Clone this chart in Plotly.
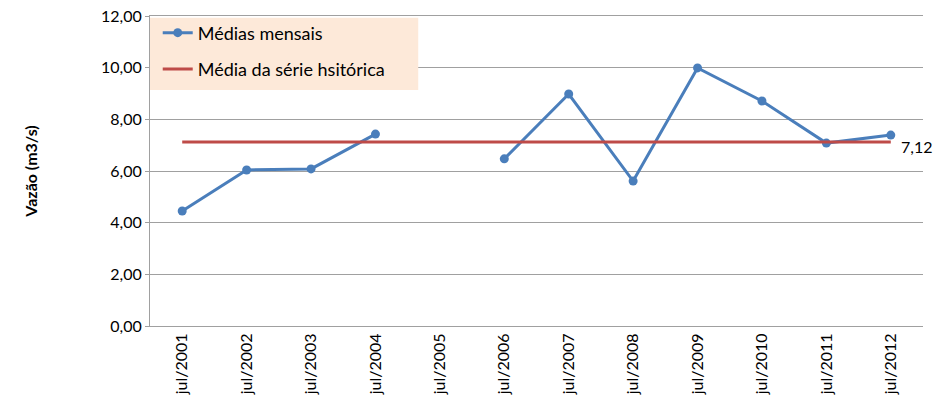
import plotly.graph_objects as go

categories = ["jul/2001", "jul/2002", "jul/2003", "jul/2004", "jul/2005", "jul/2006",
              "jul/2007", "jul/2008", "jul/2009", "jul/2010", "jul/2011", "jul/2012"]
medias_mensais = [4.45, 6.04, 6.08, 7.43, None, 6.47, 8.98, 5.61, 9.99, 8.71, 7.08, 7.39]
media_historica = 7.12
historica_values = [media_historica] * len(categories)

FONT = "Lato, 'Open Sans', sans-serif"

fig = go.Figure()
fig.add_trace(go.Scatter(
    x=categories, y=medias_mensais, name="Médias mensais",
    mode="lines+markers", connectgaps=False, legendgroup="a",
    line=dict(color="#4A7EBB", width=3),
    marker=dict(color="#4A7EBB", size=9),
))
fig.add_trace(go.Scatter(
    x=categories, y=historica_values, name="Média da série hsitórica",
    mode="lines", legendgroup="b", line=dict(color="#BE4B48", width=3),
))

fig.add_annotation(
    x=categories[-1], y=media_historica, text="7,12", showarrow=False,
    xanchor="left", yanchor="middle", xshift=8, yshift=-4,
    font=dict(family=FONT, size=16, color="#000000"),
)

# legend background box
fig.add_shape(type="rect", xref="paper", yref="paper",
              x0=0, x1=0.347, y0=0.761, y1=0.994,
              fillcolor="#FDE9D9", line=dict(width=0), layer="above")

fig.update_layout(
    width=937, height=404,
    margin=dict(l=150, r=14, t=16, b=78),
    paper_bgcolor="white", plot_bgcolor="white",
    separators=",.",
    font=dict(family=FONT, size=16, color="#000000"),
    showlegend=True,
    legend=dict(x=0.01, y=1.005, xanchor="left", yanchor="top",
                bgcolor="rgba(0,0,0,0)", font=dict(size=18),
                itemwidth=30, tracegroupgap=10),
)
fig.update_xaxes(
    type="category", range=[-0.5, 11.5], tickangle=-90, automargin=False,
    showgrid=False, showline=True, mirror=True, linecolor="#A0A0A0", linewidth=1,
    ticks="", tickfont=dict(size=16),
)
fig.update_yaxes(
    range=[0, 12], dtick=2, tickformat=".2f", automargin=False,
    ticklabeloverflow="allow",
    showgrid=True, gridcolor="#A0A0A0", gridwidth=1,
    showline=True, linecolor="#A0A0A0", linewidth=1,
    ticks="outside", ticklen=4, tickcolor="#A0A0A0",
    tickfont=dict(size=16), zeroline=False,
    title=dict(text="<b>Vazão (m3/s)</b>", font=dict(size=16), standoff=59),
)

fig.write_html("out.html", config={"displayModeBar": False},
               post_script="document.body.style.margin='0';")
